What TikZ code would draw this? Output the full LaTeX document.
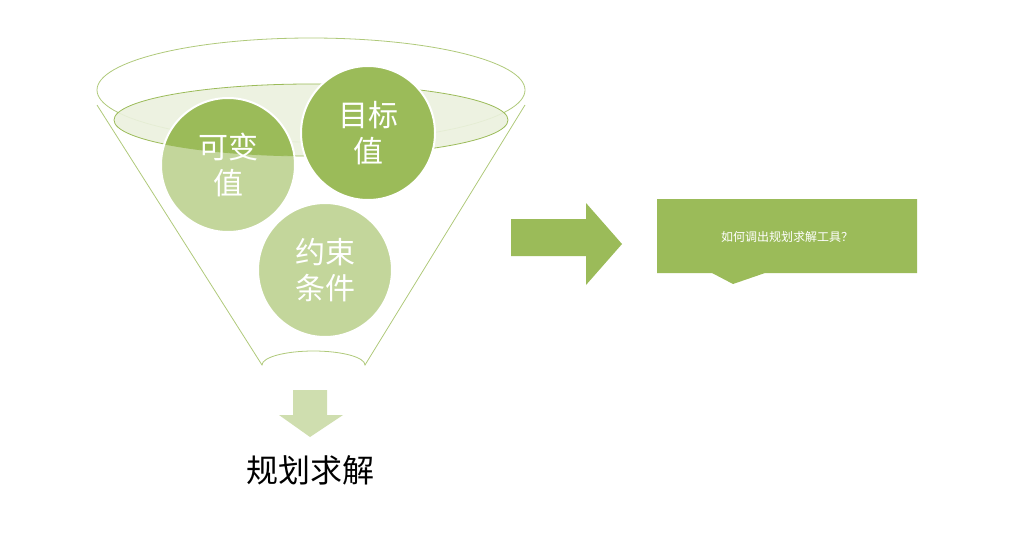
\documentclass[tikz,border=0pt]{standalone}
\usepackage{fontspec}
\newfontfamily\cjk{Noto Sans CJK SC}
\begin{document}
\begin{tikzpicture}[x=1pt,y=-1pt,
  ctext/.style={text=white,font=\cjk\fontsize{30}{36}\selectfont,align=center}]
\definecolor{dk}{HTML}{9BBB59}\definecolor{lt}{HTML}{C3D69B}\definecolor{pl}{HTML}{EBF1DE}
\useasboundingbox (0,0) rectangle (1035,541);
\draw[dk!80,line width=0.8] (97,105) -- (262,365) arc[start angle=180,end angle=360,x radius=51.5,y radius=14] -- (525,105);
\draw[dk!80,line width=0.8] (311,90) ellipse[x radius=214,y radius=52];
\fill[lt] (228,165) circle (67);
\fill[lt] (325,270) circle (67);
\fill[pl,opacity=0.9] (311,120) ellipse[x radius=197,y radius=36];
\begin{scope}
\clip (311,120) ellipse[x radius=197,y radius=36];
\fill[dk] (228,165) circle (67);
\end{scope}
\draw[dk,line width=0.8] (311,120) ellipse[x radius=197,y radius=36];
\draw[white,line width=2] (228,165) circle (67);
\draw[white,line width=2] (325,270) circle (67);
\fill[dk] (368,133) circle (67);
\draw[white,line width=2] (368,133) circle (67);
\node[ctext] (a) at (228,165) {可变\\值};
\node[ctext] (b) at (368,133) {目标\\值};
\node[ctext] (c) at (325,270) {约束\\条件};
\fill[dk] (511,219) -- (586,219) -- (586,203) -- (622,244) -- (586,285) -- (586,256) -- (511,256) -- cycle;
\fill[dk] (657,199) -- (917,199) -- (917,273) -- (765,273) -- (733,284) -- (712,273) -- (657,273) -- cycle;
\node[text=white,font=\cjk\fontsize{12}{14}\selectfont] (q) at (787,237) {如何调出规划求解工具？};
\fill[lt!80] (293,390) -- (327,390) -- (327,415) -- (343,415) -- (310,437) -- (279,415) -- (293,415) -- cycle;
\node[font=\cjk\fontsize{32}{38}\selectfont] (r) at (310,470) {规划求解};
\end{tikzpicture}
\end{document}
